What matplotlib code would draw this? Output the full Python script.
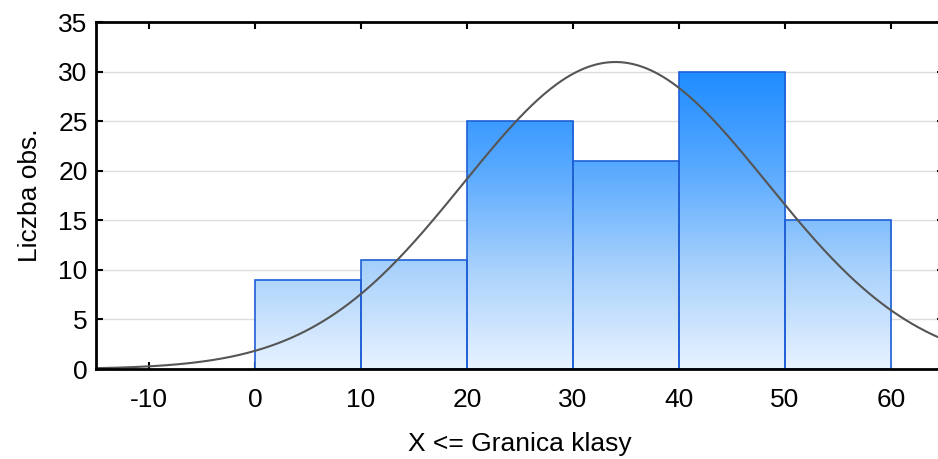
import numpy as np
import matplotlib
matplotlib.use("Agg")
import matplotlib.pyplot as plt
from matplotlib.colors import LinearSegmentedColormap
from matplotlib.patches import Rectangle

plt.rcParams['font.family'] = ['Liberation Sans', 'DejaVu Sans']
plt.rcParams['axes.unicode_minus'] = False

# histogram data
bin_edges = [0, 10, 20, 30, 40, 50, 60]
counts = [9, 11, 25, 21, 30, 15]

# fitted normal curve parameters
fit_mean = 34.0
fit_sd = 14.3

x_ticks = [-10, 0, 10, 20, 30, 40, 50, 60]
y_ticks = [0, 5, 10, 15, 20, 25, 30, 35]

fig = plt.figure(figsize=(9.38, 4.59), dpi=100)
ax = fig.add_axes([0.1023, 0.196, 0.9041, 0.756])

ax.set_xlim(-15, 65)
ax.set_ylim(0, 35)

cmap = LinearSegmentedColormap.from_list(
    "grad", ["#e8f2ff", "#a9d2fc", "#5aaaff", "#1e8cff"])
grad = np.linspace(0, 1, 256).reshape(-1, 1)

for i, c in enumerate(counts):
    x0, x1 = bin_edges[i], bin_edges[i + 1]
    im = ax.imshow(grad, cmap=cmap, origin="lower", aspect="auto",
                   extent=[x0, x1, 0, 30], vmin=0, vmax=1, zorder=2)
    clip = Rectangle((x0, 0), x1 - x0, c, transform=ax.transData)
    im.set_clip_path(clip)
    ax.add_patch(Rectangle((x0, 0), x1 - x0, c, fill=False,
                           edgecolor="#1f5fd6", lw=1.2, zorder=3))

# normal curve scaled to counts
n = sum(counts)
w = bin_edges[1] - bin_edges[0]
xs = np.linspace(-15, 65, 400)
ys = n * w / (fit_sd * np.sqrt(2 * np.pi)) * np.exp(-(xs - fit_mean) ** 2 / (2 * fit_sd ** 2))
ax.plot(xs, ys, color="#555555", lw=1.5, zorder=4)

ax.set_xticks(x_ticks)
ax.set_yticks(y_ticks)
ax.tick_params(direction="in", length=5, width=1.5, labelsize=19,
               top=True, right=True, pad=14)
ax.tick_params(axis="y", pad=6)
ax.yaxis.grid(True, color="#dddddd", lw=1)
ax.set_axisbelow(True)
for s in ax.spines.values():
    s.set_linewidth(2)
    s.set_zorder(5)

ax.set_xlabel("X <= Granica klasy", fontsize=19, labelpad=14)
ax.set_ylabel("Liczba obs.", fontsize=19, labelpad=12)

fig.savefig("out.png", dpi=100)
